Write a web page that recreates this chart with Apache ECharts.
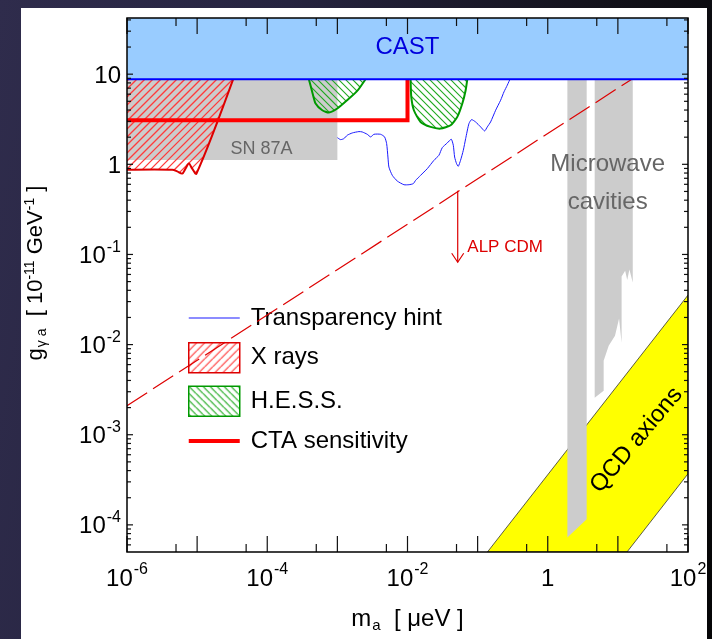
<!DOCTYPE html>
<html><head><meta charset="utf-8">
<script src="https://cdn.jsdelivr.net/npm/echarts@6/dist/echarts.min.js"></script>
<style>
html,body{margin:0;padding:0;width:712px;height:639px;overflow:hidden;
background:linear-gradient(100deg,#2f2c4c 0%,#262440 35%,#121119 75%,#050506 100%);}
#panel{position:absolute;left:21px;top:8px;width:686px;height:631px;background:#fff;}
#chart{position:absolute;left:0;top:0;width:712px;height:639px;}
</style></head><body><div id="panel"></div><div id="chart"></div>
<script>
// ---------- axis ranges & ticks ----------
const X_MIN = 1e-6, X_MAX = 1e2, Y_MIN = 5e-5, Y_MAX = 42;
const xMajorTicks = [1e-6,1e-5,1e-4,1e-3,1e-2,1e-1,1,1e1,1e2];
const xMinorTicks = [5e-6,5e-5,5e-4,5e-3,5e-2,5e-1,5,50];
const xLabelValues = [1e-6,1e-4,1e-2,1,1e2];
const xLabelTexts = ['10^-6','10^-4','10^-2','1','10^2'];
const yMajorTicks = [1e-4,1e-3,1e-2,1e-1,1,10];
const yLabelValues = [1e-4,1e-3,1e-2,1e-1,1,10];
const yLabelTexts = ['10^-4','10^-3','10^-2','10^-1','1','10'];

// ---------- data ----------
const castY = 8.8;                         // CAST bound
const sn87aX = [1e-6, 1e-3];
const sn87aY = [1.12, 8.8];
const xrayX = [1e-6, 4.42e-6, 5.2e-6, 6.12e-6, 6.82e-6, 7.62e-6, 8.51e-6, 9.79e-6, 3.27e-5];
const xrayY = [0.873, 0.873, 0.836, 0.789, 0.895, 1.018, 0.895, 0.789, 8.8];
const hess1X = [3.92e-4, 4.38e-4, 4.89e-4, 6.09e-4, 7.57e-4, 9.98e-4, 1.38e-3, 1.92e-3, 2.52e-3];
const hess1Y = [8.8, 6.36, 4.72, 3.98, 3.75, 4.16, 5.14, 6.52, 8.8];
const hess2X = [0.01107, 0.01132, 0.01233, 0.01537, 0.02134, 0.02962, 0.0412, 0.0513, 0.0605, 0.0675, 0.0713];
const hess2Y = [8.8, 5.6, 3.98, 2.95, 2.6, 2.49, 2.71, 3.36, 4.72, 6.64, 8.8];
const ctaX = [1e-6, 0.01, 0.01];
const ctaY = [3.08, 3.08, 8.8];
const hintX = [1.0e-3,1.11e-3,1.24e-3,1.38e-3,1.63e-3,2.03e-3,2.26e-3,2.67e-3,2.98e-3,3.32e-3,4.13e-3,4.71e-3,5.04e-3,5.26e-3,5.43e-3,6.07e-3,7.14e-3,8.89e-3,1.047e-2,1.208e-2,1.306e-2,1.538e-2,1.914e-2,2.382e-2,2.805e-2,3.133e-2,3.69e-2,4.21e-2,4.50e-2,4.70e-2,5.01e-2,5.30e-2,5.71e-2,6.25e-2,6.75e-2,7.52e-2,8.20e-2,9.35e-2,0.1104,0.1259,0.1374,0.1531,0.1807,0.2128,0.2377,0.2649,0.2891];
const hintY = [1.977,1.879,1.928,2.099,2.228,2.307,2.286,2.153,2.014,2.153,2.153,2.014,1.698,1.205,0.933,0.755,0.653,0.594,0.594,0.610,0.664,0.755,0.895,1.107,1.259,1.531,1.726,1.897,1.626,1.205,1.016,0.951,1.107,1.432,1.928,2.831,3.133,2.951,2.600,2.344,2.600,2.951,3.981,5.140,6.368,7.551,8.790];
const alpX = [1e-6, 15.8];
const alpY = [2.1e-3, 8.8];
const alpArrowX = [0.052, 0.052];
const alpArrowY = [0.51, 0.082];
const qcdX = [0.138, 100, 100, 13.5];
const qcdY = [5e-5, 0.0354, 3.69e-4, 5e-5];
const mw1X = [1.905, 3.59, 3.59, 1.905];
const mw1Y = [8.8, 8.8, 1.156e-4, 7.23e-5];
const mw2X = [4.67, 16.3, 16.3, 14.6, 13.6, 12.7, 11.3, 11.3, 10.4, 9.1, 7.4, 6.27, 6.27, 4.67];
const mw2Y = [8.8, 8.8, 0.0489, 0.068, 0.052, 0.066, 0.057, 0.0105, 0.0195, 0.0125, 0.0097, 0.0066, 0.00308, 0.00258];

// ---------- annotations (data-space anchors) ----------
const FONT = '"Liberation Sans", Arial, Helvetica, sans-serif';
const annotations = [
  {x: 0.01, y: 20, text: 'CAST', color: '#0000dd', size: 24},
  {x: 8.3e-5, y: 1.49, text: 'SN 87A', color: '#666666', size: 18},
  {x: 7.16, y: 0.615, text: 'Microwave\ncavities', color: '#666666', size: 24, lh: 38},
  {x: 0.0713, y: 0.1205, text: 'ALP CDM', color: '#dd0000', size: 17, align: 'left'},
  {x: 18.4, y: 8.7e-4, text: 'QCD axions', color: '#000000', size: 24, rot: 50}
];

const RED_HATCH = '#ff3b3b', GREEN_HATCH = '#22aa22';

// canvas pattern (used for legend icons)
function hatchPattern(color, dir, size){
  const c = document.createElement('canvas'); c.width = size; c.height = size;
  const g = c.getContext('2d'); g.strokeStyle = color; g.lineWidth = 1.2;
  g.beginPath();
  for (let k = -1; k <= 1; k++) {
    if (dir > 0) { g.moveTo(k*size, size); g.lineTo(k*size+size, 0); }
    else { g.moveTo(k*size, 0); g.lineTo(k*size+size, size); }
  }
  g.stroke();
  return {image: c, repeat: 'repeat'};
}

// hatch segments clipped to a pixel polygon; dir=+1 '/', dir=-1 '\'
function hatchSegments(poly, dir, step){
  const val = p => p[0] + dir * p[1];
  let lo = Infinity, hi = -Infinity;
  poly.forEach(p => { const v = val(p); lo = Math.min(lo, v); hi = Math.max(hi, v); });
  const out = [];
  for (let c = Math.ceil(lo / step) * step; c <= hi; c += step) {
    const hits = [];
    for (let i = 0; i < poly.length; i++) {
      const a = poly[i], b = poly[(i + 1) % poly.length];
      const fa = val(a) - c, fb = val(b) - c;
      if ((fa < 0) !== (fb < 0)) {
        const t = fa / (fa - fb);
        hits.push([a[0] + t * (b[0] - a[0]), a[1] + t * (b[1] - a[1])]);
      }
    }
    hits.sort((p, q) => p[0] - q[0]);
    for (let i = 0; i + 1 < hits.length; i += 2) out.push([hits[i], hits[i+1]]);
  }
  return out;
}
function hatchPath(segs, color, w){
  return {type: 'path', shape: {pathData: segs.map(s => 'M' + s[0][0].toFixed(2) + ' ' + s[0][1].toFixed(2) + 'L' + s[1][0].toFixed(2) + ' ' + s[1][1].toFixed(2)).join('')},
    style: {fill: 'none', stroke: color, lineWidth: w}};
}

const pts = (xs, ys) => xs.map((x, i) => [x, ys[i]]);
const crd = (api, xs, ys) => xs.map((x, i) => api.coord([x, ys[i]]));

function shape(name, xs, ys, z, build){
  return {type: 'custom', name, z, clip: true, silent: true,
    data: pts(xs, ys),
    renderItem: (params, api) => params.dataIndex === 0 ? build(api) : null};
}

const series = [
  shape('SN 87A', sn87aX, sn87aY, 1, api => ({type: 'polygon',
    shape: {points: crd(api, [sn87aX[0], sn87aX[1], sn87aX[1], sn87aX[0]], [sn87aY[0], sn87aY[0], sn87aY[1], sn87aY[1]])},
    style: {fill: '#cccccc'}})),
  shape('QCD axions', qcdX, qcdY, 2, api => ({type: 'polygon',
    shape: {points: crd(api, qcdX, qcdY)}, style: {fill: '#ffff00', stroke: '#333', lineWidth: 0.8}})),
  shape('Microwave cavities', mw1X.concat(mw2X), mw1Y.concat(mw2Y), 3, api => ({type: 'group', children: [
    {type: 'polygon', shape: {points: crd(api, mw1X, mw1Y)}, style: {fill: '#cccccc'}},
    {type: 'polygon', shape: {points: crd(api, mw2X, mw2Y)}, style: {fill: '#cccccc'}}]})),
  shape('X-ray hatch', xrayX, xrayY, 4, api => {
    const poly = crd(api, xrayX.concat([X_MIN]), xrayY.concat([castY]));
    return hatchPath(hatchSegments(poly, 1, 8), RED_HATCH, 1.3);
  }),
  shape('X rays', xrayX, xrayY, 4, api => ({type: 'polyline', shape: {points: crd(api, xrayX, xrayY), smooth: 0.3},
    style: {fill: 'none', stroke: '#dd0000', lineWidth: 2}})),
  shape('HESS hatch', hess1X.concat(hess2X), hess1Y.concat(hess2Y), 4, api => {
    const p1 = crd(api, hess1X, hess1Y), p2 = crd(api, hess2X, hess2Y);
    return hatchPath(hatchSegments(p1, -1, 7).concat(hatchSegments(p2, -1, 7)), GREEN_HATCH, 1.1);
  }),
  shape('H.E.S.S.', hess1X.concat(hess2X), hess1Y.concat(hess2Y), 4, api => ({type: 'group', children: [
    {type: 'polyline', shape: {points: crd(api, hess1X, hess1Y), smooth: 0.2}, style: {fill: 'none', stroke: '#009900', lineWidth: 2}},
    {type: 'polyline', shape: {points: crd(api, hess2X, hess2Y), smooth: 0.2}, style: {fill: 'none', stroke: '#009900', lineWidth: 2}}]})),
  shape('Transparency hint', hintX, hintY, 5, api => ({type: 'polyline',
    shape: {points: crd(api, hintX, hintY), smooth: 0.2}, style: {fill: 'none', stroke: '#1a1aff', lineWidth: 1}})),
  shape('CTA sensitivity', ctaX, ctaY, 6, api => ({type: 'polyline',
    shape: {points: crd(api, ctaX, ctaY)}, style: {fill: 'none', stroke: '#ff0000', lineWidth: 4, lineJoin: 'miter'}})),
  shape('ALP CDM', alpX.concat(alpArrowX), alpY.concat(alpArrowY), 6, api => {
    const a = crd(api, alpArrowX, alpArrowY); const tip = a[1];
    return {type: 'group', children: [
      {type: 'polyline', shape: {points: crd(api, alpX, alpY)}, style: {fill: 'none', stroke: '#dd0000', lineWidth: 1.2, lineDash: [24, 7]}},
      {type: 'polyline', shape: {points: a}, style: {fill: 'none', stroke: '#dd0000', lineWidth: 1.2}},
      {type: 'polyline', shape: {points: [[tip[0]-6, tip[1]-9], tip, [tip[0]+6, tip[1]-9]]}, style: {fill: 'none', stroke: '#dd0000', lineWidth: 1.2}}]};
  }),
  shape('CAST', [X_MIN, X_MAX], [castY, Y_MAX], 7, api => ({type: 'group', children: [
    {type: 'polygon', shape: {points: crd(api, [X_MIN, X_MAX, X_MAX, X_MIN], [castY, castY, Y_MAX, Y_MAX])}, style: {fill: '#99ccff'}},
    {type: 'polyline', shape: {points: crd(api, [X_MIN, X_MAX], [castY, castY])}, style: {fill: 'none', stroke: '#0000ff', lineWidth: 2}}]})),
  {type: 'custom', name: 'annotations', z: 8, clip: false, silent: true,
    data: annotations.map(a => [a.x, a.y]),
    renderItem: (params, api) => {
      const a = annotations[params.dataIndex]; const p = api.coord([a.x, a.y]);
      return {type: 'text', x: p[0], y: p[1], rotation: (a.rot || 0) * Math.PI / 180,
        style: {text: a.text, fill: a.color, fontSize: a.size, fontFamily: FONT,
          align: a.align || 'center', verticalAlign: 'middle', lineHeight: a.lh || a.size * 1.2}};
    }},
  {type: 'custom', name: 'axes', z: 10, clip: false, silent: true,
    data: [[X_MIN, Y_MIN]],
    renderItem: (params, api) => {
      const cs = params.coordSys; const L = cs.x, T = cs.y, R = cs.x + cs.width, B = cs.y + cs.height;
      const ch = [];
      const ln = (x1, y1, x2, y2) => ch.push({type: 'line', shape: {x1, y1, x2, y2}, style: {stroke: '#111', lineWidth: 1.2}});
      xMajorTicks.forEach(v => { const x = api.coord([v, Y_MIN])[0]; ln(x, B, x, B - 16); ln(x, T, x, T + 16); });
      xMinorTicks.forEach(v => { const x = api.coord([v, Y_MIN])[0]; ln(x, B, x, B - 8); ln(x, T, x, T + 8); });
      yMajorTicks.forEach(v => { const y = api.coord([X_MIN, v])[1]; ln(L, y, L + 6, y); ln(R, y, R - 6, y); });
      for (let e = -5; e <= 1; e++) for (let k = 2; k <= 9; k++) {
        const v = k * Math.pow(10, e); if (v <= Y_MIN || v >= Y_MAX) continue;
        const y = api.coord([X_MIN, v])[1]; ln(L, y, L + 4, y); ln(R, y, R - 4, y);
      }
      ch.push({type: 'rect', shape: {x: L, y: T, width: cs.width, height: cs.height}, style: {fill: 'none', stroke: '#000', lineWidth: 1.5}});
      const rich = {b: {fontSize: 24, fontFamily: FONT, fill: '#000'}, s: {fontSize: 16, fontFamily: FONT, fill: '#000', padding: [0, 0, 18, 1]}};
      const fmt = t => { const m = t.split('^'); return m.length > 1 ? '{b|' + m[0] + '}{s|' + m[1] + '}' : '{b|' + t + '}'; };
      xLabelValues.forEach((v, i) => { const x = api.coord([v, Y_MIN])[0];
        ch.push({type: 'text', x: x, y: B + 27, style: {text: fmt(xLabelTexts[i]), rich, align: 'center', verticalAlign: 'middle', fill: '#000'}}); });
      yLabelValues.forEach((v, i) => { const y = api.coord([X_MIN, v])[1];
        ch.push({type: 'text', x: L - 6, y: y + 2, style: {text: fmt(yLabelTexts[i]), rich, align: 'right', verticalAlign: 'middle', fill: '#000'}}); });
      return {type: 'group', children: ch};
    }}
];

const chart = echarts.init(document.getElementById('chart'), null, {renderer: 'canvas'});
chart.setOption({
  animation: false,
  backgroundColor: 'transparent',
  grid: {left: 127, top: 18, width: 561, height: 534, show: false},
  xAxis: {type: 'log', logBase: 10, min: X_MIN, max: X_MAX,
    axisLine: {show: false}, axisTick: {show: false}, axisLabel: {show: false}, splitLine: {show: false},
    name: 'm{sub|a}  [ μeV ]', nameLocation: 'middle', nameGap: 54,
    nameTextStyle: {fontSize: 24, fontFamily: FONT, color: '#000',
      rich: {sub: {fontSize: 15, fontFamily: FONT, color: '#000', padding: [12, 0, 0, 1]}}}},
  yAxis: {type: 'log', logBase: 10, min: Y_MIN, max: Y_MAX,
    axisLine: {show: false}, axisTick: {show: false}, axisLabel: {show: false}, splitLine: {show: false},
    name: 'g{sub|γ a}  [ 10{sup|-11} GeV{sup|-1} ]', nameLocation: 'middle', nameRotate: 90, nameGap: 78,
    nameTextStyle: {fontSize: 22, fontFamily: FONT, color: '#000', padding: [0, 0, 0, 24],
      rich: {sub: {fontSize: 14, fontFamily: FONT, color: '#000', padding: [12, 0, 0, 1]},
             sup: {fontSize: 14, fontFamily: FONT, color: '#000', padding: [0, 0, 12, 0]}}}},
  legend: {orient: 'vertical', left: 188, top: 306, padding: 0, itemWidth: 51, itemHeight: 30, itemGap: 12,
    symbolKeepAspect: true, selectedMode: false,
    textStyle: {fontSize: 24, fontFamily: FONT, color: '#000', padding: [0, 0, 0, 6]},
    data: [
      {name: 'Transparency hint', icon: 'path://M0,0H51V1H0Z', itemStyle: {color: '#1a1aff', borderWidth: 0}},
      {name: 'X rays', icon: 'rect', itemStyle: {color: hatchPattern(RED_HATCH, 1, 8), borderColor: '#dd0000', borderWidth: 1.5}},
      {name: 'H.E.S.S.', icon: 'rect', itemStyle: {color: hatchPattern(GREEN_HATCH, -1, 7), borderColor: '#009900', borderWidth: 1.5}},
      {name: 'CTA sensitivity', icon: 'path://M0,0H51V4H0Z', itemStyle: {color: '#ff0000', borderWidth: 0}}
    ]},
  series
});
</script></body></html>
